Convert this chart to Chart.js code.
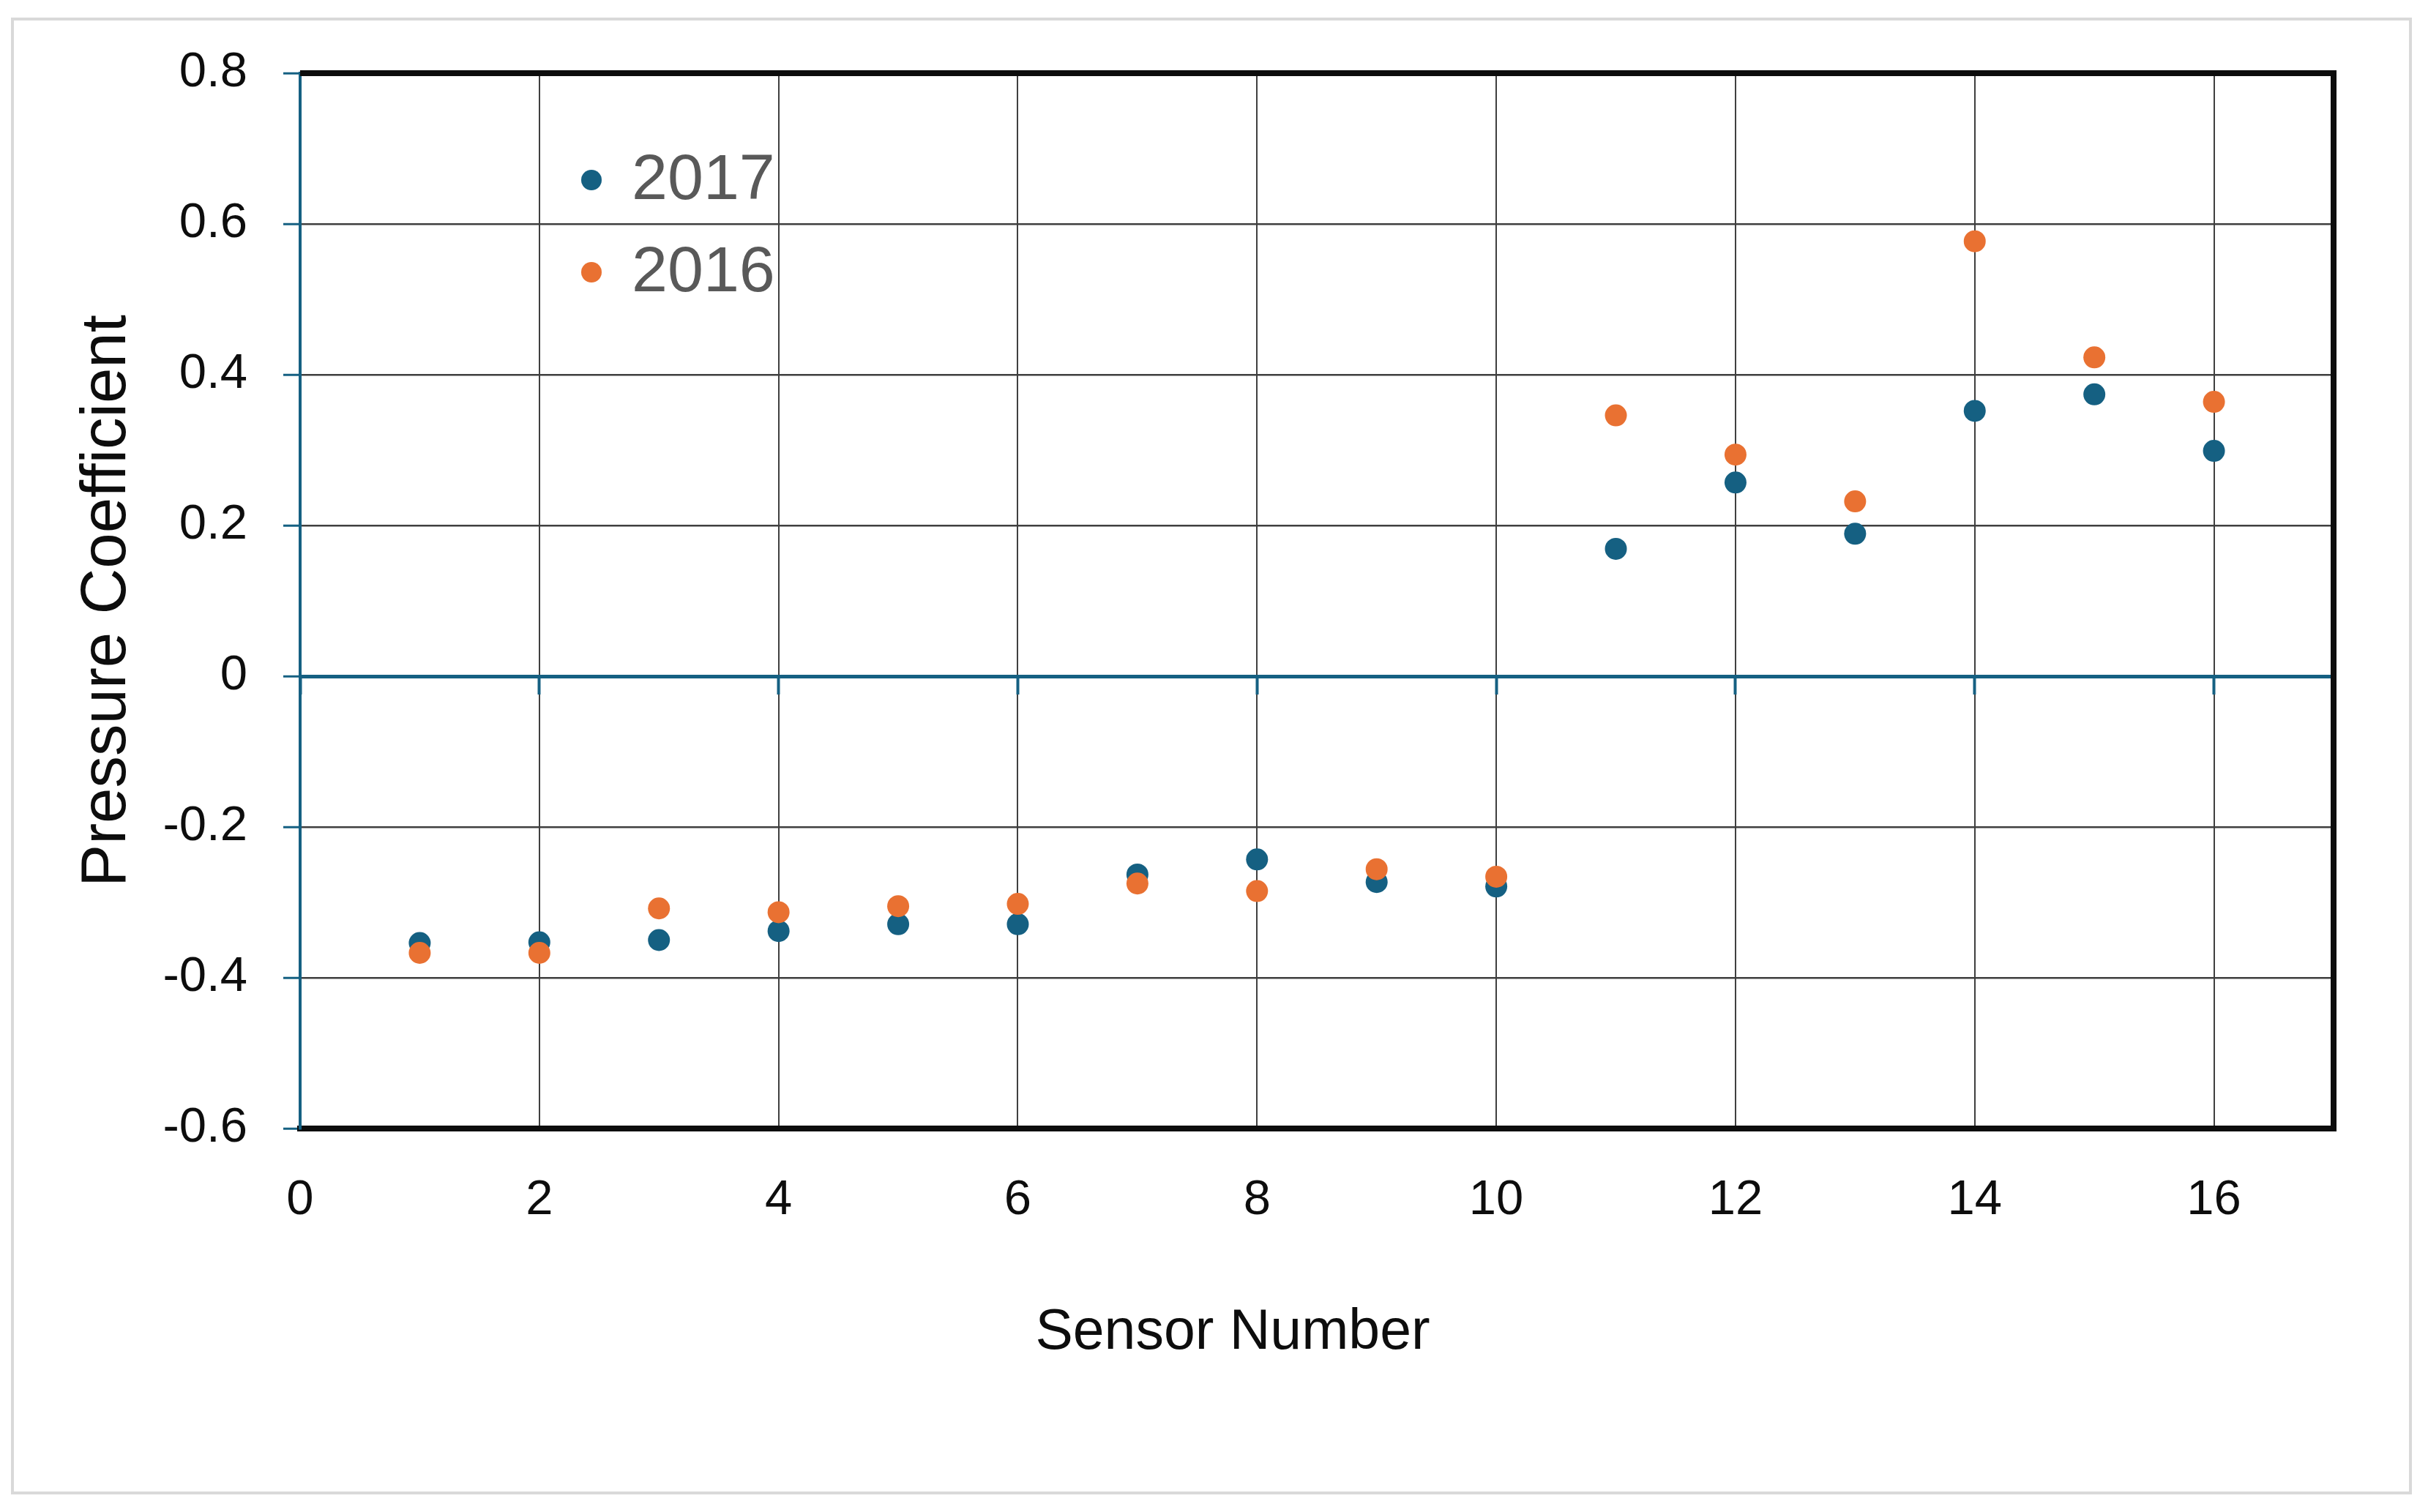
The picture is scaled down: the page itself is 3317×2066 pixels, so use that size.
<!DOCTYPE html>
<html>
<head>
<meta charset="utf-8">
<script src="https://cdn.jsdelivr.net/npm/chart.js@4.4.1/dist/chart.umd.min.js"></script>
<style>
    html, body { margin: 0; padding: 0; background: #fff; }
    #wrap { position: relative; width: 3317px; height: 2066px; }
    #frame {
        position: absolute;
        left: 15px;
        top: 24px;
        width: 3272px;
        height: 2010px;
        border: 4px solid #d9d9d9;
        pointer-events: none;
    }
    canvas { position: absolute; left: 0; top: 0; }
</style>
</head>
<body>
<div id="wrap">
    <canvas id="chart" width="3317" height="2066"></canvas>
    <div id="frame"></div>
</div>
<script>
// sensor positions and pressure coefficients
const sensors = [1, 2, 3, 4, 5, 6, 7, 8, 9, 10, 11, 12, 13, 14, 15, 16]
const cp2017 = [-0.354, -0.353, -0.350, -0.338, -0.329, -0.329, -0.263, -0.243, -0.273, -0.279, 0.169, 0.257, 0.189, 0.352, 0.374, 0.299]
const cp2016 = [-0.367, -0.367, -0.308, -0.313, -0.305, -0.302, -0.275, -0.285, -0.256, -0.266, 0.346, 0.294, 0.232, 0.577, 0.423, 0.364]
const seriesLabels = ['2017', '2016']

const xRange = [0, 17]
const xStep = 2
const yRange = [-0.6, 0.8]
const yStep = 0.2

const colors = {
    blue: '#156082',
    orange: '#E97132',
    ink: '#0d0d0d',
    grid: '#3f3f3f',
    legend: '#595959'
}
const family = "'Liberation Sans', Arial, sans-serif"

const toPoints = values => sensors.map((s, i) => ({ x: s, y: values[i] }))

// only even sensor numbers get a tick, the axis still runs to 17
const evenTicksOnly = scale => {
    scale.ticks = scale.ticks.filter(t => t.value % xStep === 0)
}

// thick black frame on top and right of the plot area
const framePlugin = {
    id: 'plotFrame',
    beforeDatasetsDraw(chart) {
        const { ctx, chartArea: a } = chart
        ctx.save()
        ctx.strokeStyle = colors.ink
        ctx.lineWidth = 8
        ctx.beginPath()
        ctx.moveTo(a.left, a.top)
        ctx.lineTo(a.right, a.top)
        ctx.lineTo(a.right, a.bottom + 4)
        ctx.stroke()
        ctx.restore()
    }
}

// legend sits inside the plot, plus the off-centre x title
const labelsPlugin = {
    id: 'insideLabels',
    afterDraw(chart) {
        const { ctx, chartArea: a } = chart
        ctx.save()
        chart.data.datasets.forEach((ds, i) => {
            const cx = a.left + 398
            const cy = a.top + 146 + i * 126
            ctx.fillStyle = ds.backgroundColor
            ctx.beginPath()
            ctx.arc(cx, cy, 14, 0, Math.PI * 2)
            ctx.fill()
            ctx.fillStyle = colors.legend
            ctx.font = `88px ${family}`
            ctx.textAlign = 'left'
            ctx.textBaseline = 'middle'
            ctx.fillText(ds.label, cx + 55, cy + 2)
        })
        ctx.fillStyle = colors.ink
        ctx.font = `77px ${family}`
        ctx.textAlign = 'center'
        ctx.textBaseline = 'alphabetic'
        ctx.fillText('Sensor Number', a.left + 1274, a.bottom + 301)
        ctx.restore()
    }
}

new Chart(document.getElementById('chart'), {
    type: 'scatter',
    data: {
        datasets: [
            { label: seriesLabels[0], data: toPoints(cp2017), backgroundColor: colors.blue, pointRadius: 15, pointBorderWidth: 0, order: 1 },
            { label: seriesLabels[1], data: toPoints(cp2016), backgroundColor: colors.orange, pointRadius: 15, pointBorderWidth: 0, order: 0 }
        ]
    },
    options: {
        responsive: false,
        animation: false,
        devicePixelRatio: 1,
        layout: { padding: { top: 100, right: 129, bottom: 0, left: 0 } },
        plugins: {
            legend: { display: false },
            tooltip: { enabled: false }
        },
        scales: {
            x: {
                type: 'linear',
                position: 'bottom',
                min: xRange[0],
                max: xRange[1],
                bounds: 'data',
                ticks: {
                    stepSize: xStep,
                    padding: 58,
                    color: colors.ink,
                    font: { family, size: 67 },
                    maxRotation: 0,
                    autoSkip: false
                },
                grid: {
                    color: c => (c.tick && c.tick.value === 0 ? 'transparent' : colors.grid),
                    lineWidth: 2,
                    drawTicks: false
                },
                border: { color: colors.ink, width: 8 },
                afterBuildTicks: evenTicksOnly,
                afterFit: scale => { scale.height = 524 }
            },
            // the horizontal axis crosses at y = 0
            xAxisLine: {
                type: 'linear',
                axis: 'x',
                position: { y: 0 },
                min: xRange[0],
                max: xRange[1],
                bounds: 'data',
                ticks: { stepSize: xStep, display: false },
                grid: { drawOnChartArea: false, drawTicks: true, tickLength: 22, tickColor: colors.blue, tickWidth: 4 },
                border: { color: colors.blue, width: 5 },
                afterBuildTicks: evenTicksOnly
            },
            y: {
                type: 'linear',
                min: yRange[0],
                max: yRange[1],
                ticks: {
                    stepSize: yStep,
                    padding: 49,
                    color: colors.ink,
                    font: { family, size: 67 }
                },
                grid: {
                    color: colors.grid,
                    lineWidth: 2.5,
                    tickLength: 23,
                    tickColor: colors.blue,
                    tickWidth: 3
                },
                border: { color: colors.blue, width: 4 },
                title: {
                    display: true,
                    text: 'Pressure Coefficient',
                    color: colors.ink,
                    font: { family, size: 87 },
                    padding: { top: 95, bottom: 0 }
                },
                afterFit: scale => { scale.width = 410 }
            }
        }
    },
    plugins: [framePlugin, labelsPlugin]
})
</script>
</body>
</html>
